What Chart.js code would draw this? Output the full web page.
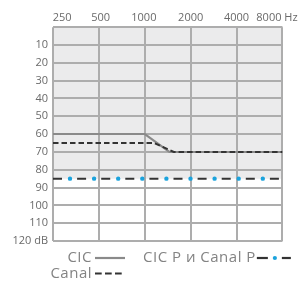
<!DOCTYPE html>
<html>
<head>
<meta charset="utf-8">
<script src="https://cdn.jsdelivr.net/npm/chart.js@4.4.1/dist/chart.umd.min.js"></script>
<style>
  html, body { margin: 0; padding: 0; background: #ffffff; }
  #wrap { width: 301px; height: 282px; }
</style>
</head>
<body>
<div id="wrap"><canvas id="c" width="301" height="282"></canvas></div>
<script>
// ---- data ----
const hzTicks = [250, 500, 1000, 2000, 4000, 8000];
const hzLabels = ['250', '500', '1000', '2000', '4000', '8000 Hz'];
const dbTicks = [0, 10, 20, 30, 40, 50, 60, 70, 80, 90, 100, 110, 120];
const dbLabels = ['', '10', '20', '30', '40', '50', '60', '70', '80', '90', '100', '110', '120 dB'];

const seriesNames = ['CIC', 'Canal', 'CIC P и Canal P'];
const cicFreq = [250, 1000, 1450, 8000];
const cicDb = [60, 60, 70, 70];
const canalFreq = [250, 1150, 1550, 8000];
const canalDb = [65, 65, 70, 70];
const cicpFreq = [250, 8000];
const cicpDb = [85, 85];

// label placement along the top axis (0..5 = grid intervals), layout only
const hzLabelPos = [0.2, 1.04, 1.98, 3.0, 4.0, 4.88];

const pts = (xs, ys) => xs.map((x, i) => ({ x: x, y: ys[i] }));

const gridColor = '#adadad';
const tickColor = '#6a6a6a';
const dark = '#333333';
const blue = '#1ba3dd';

const legendPlugin = {
  id: 'customLegend',
  afterDraw(chart) {
    const ctx = chart.ctx;
    ctx.save();
    ctx.font = '15px "Open Sans"';
    try { ctx.letterSpacing = '0.5px'; } catch (e) {}
    ctx.fillStyle = '#838383';
    ctx.textBaseline = 'alphabetic';
    const rows = [262, 277.5];
    const col0End = 92, col1Start = 143;
    const items = [
      { text: seriesNames[0], col: 0, row: 0, kind: 'solid' },
      { text: seriesNames[2], col: 1, row: 0, kind: 'dashdot' },
      { text: seriesNames[1], col: 0, row: 1, kind: 'dash' }
    ];
    items.forEach(it => {
      const yb = rows[it.row];
      let sx;
      if (it.col === 0) {
        ctx.textAlign = 'right';
        ctx.fillText(it.text, col0End, yb);
        sx = col0End + 3;
      } else {
        ctx.textAlign = 'left';
        ctx.fillText(it.text, col1Start, yb);
        sx = col1Start + ctx.measureText(it.text).width + 1;
      }
      const sy = yb - 4;
      ctx.save();
      ctx.lineWidth = 2.2;
      if (it.kind === 'solid') {
        ctx.strokeStyle = '#8a8a8a';
        ctx.beginPath(); ctx.moveTo(sx, sy); ctx.lineTo(sx + 30, sy); ctx.stroke();
      } else if (it.kind === 'dash') {
        ctx.strokeStyle = dark;
        ctx.setLineDash([6.7, 3.3]);
        ctx.beginPath(); ctx.moveTo(sx, sy); ctx.lineTo(sx + 27, sy); ctx.stroke();
      } else {
        ctx.strokeStyle = dark;
        ctx.beginPath(); ctx.moveTo(sx, sy); ctx.lineTo(sx + 11, sy); ctx.stroke();
        ctx.beginPath(); ctx.moveTo(sx + 25, sy); ctx.lineTo(sx + 34, sy); ctx.stroke();
        ctx.fillStyle = blue;
        ctx.beginPath(); ctx.arc(sx + 18, sy, 2.1, 0, Math.PI * 2); ctx.fill();
      }
      ctx.restore();
    });
    ctx.restore();
  }
};

new Chart(document.getElementById('c'), {
  type: 'line',
  data: {
    datasets: [
      {
        label: seriesNames[0],
        data: pts(cicFreq, cicDb),
        borderColor: '#8a8a8a',
        borderWidth: 2,
        pointRadius: 0,
        fill: false,
        tension: 0,
        order: 3
      },
      {
        label: seriesNames[1],
        data: pts(canalFreq, canalDb),
        borderColor: dark,
        borderWidth: 2,
        borderDash: [5.5, 3],
        pointRadius: 0,
        fill: false,
        tension: 0,
        order: 2
      },
      {
        label: seriesNames[2],
        data: pts(cicpFreq, cicpDb),
        borderColor: dark,
        borderWidth: 2,
        borderDash: [9, 15.1],
        pointRadius: 0,
        fill: { value: 0 },
        backgroundColor: '#ebebec',
        tension: 0,
        order: 1
      },
      {
        label: seriesNames[2] + ' ',
        data: pts(cicpFreq, cicpDb),
        borderColor: blue,
        borderWidth: 4.4,
        borderDash: [0, 24.1],
        borderDashOffset: 7.1,
        borderCapStyle: 'round',
        pointRadius: 0,
        fill: false,
        tension: 0,
        order: 0
      }
    ]
  },
  options: {
    responsive: false,
    devicePixelRatio: 1,
    animation: false,
    layout: { padding: { top: 8, right: 17, bottom: 41, left: 0 } },
    plugins: {
      legend: { display: false },
      tooltip: { enabled: false },
      filler: { drawTime: 'beforeDraw' }
    },
    scales: {
      x: {
        type: 'logarithmic',
        position: 'bottom',
        min: 250,
        max: 8000,
        afterBuildTicks: (s) => { s.ticks = hzTicks.map(v => ({ value: v })); },
        ticks: { display: false },
        grid: { color: gridColor, lineWidth: 2, drawTicks: false },
        border: { display: false }
      },
      xl: {
        type: 'linear',
        position: 'top',
        min: 0,
        max: 5,
        afterBuildTicks: (s) => { s.ticks = hzLabelPos.map(v => ({ value: v })); },
        ticks: {
          autoSkip: false,
          maxRotation: 0,
          padding: 3,
          color: tickColor,
          font: { family: '"Open Sans"', size: 11 },
          callback: (v, i) => hzLabels[i]
        },
        grid: { display: false, drawTicks: false },
        border: { display: false }
      },
      y: {
        type: 'linear',
        reverse: true,
        min: 0,
        max: 120,
        afterBuildTicks: (s) => { s.ticks = dbTicks.map(v => ({ value: v })); },
        afterFit: (s) => { s.width = 53; },
        ticks: {
          autoSkip: false,
          padding: 5,
          color: tickColor,
          font: { family: '"Open Sans"', size: 11 },
          callback: (v, i) => dbLabels[i]
        },
        grid: { color: gridColor, lineWidth: 2, drawTicks: false },
        border: { display: false }
      }
    }
  },
  plugins: [legendPlugin]
});
</script>
</body>
</html>
